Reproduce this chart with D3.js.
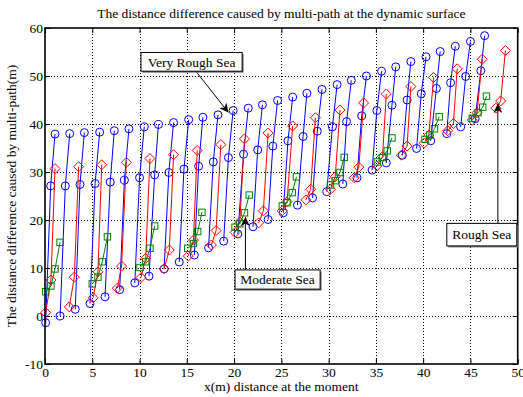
<!DOCTYPE html>
<html><head><meta charset="utf-8">
<script src="https://cdn.jsdelivr.net/npm/d3@7"></script>
<style>
body{margin:0;background:#fff}
svg{display:block}
text{font-family:"Liberation Serif","Times New Roman",serif;fill:#000}
</style>
</head><body>
<svg id="chart" width="523" height="397"></svg>
<script>
// ---------- data ----------
const titleText = "The distance difference caused by multi-path at the dynamic surface";
const xLabel = "x(m) distance at the moment";
const yLabel = "The distance difference caused by multi-path(m)";
const xTicks = [0,5,10,15,20,25,30,35,40,45,50];
const yTicks = [-10,0,10,20,30,40,50,60];
const seriesNames = ["Very Rough Sea","Rough Sea","Moderate Sea"];

// Very Rough Sea (blue circles): one ramp per row
const veryRoughX = [
 [0.07,0.6,1.06],[1.6,2.15,2.61],[3.2,3.7,4.16],[4.76,5.3,5.78],[6.35,6.9,7.33],
 [7.9,8.4,8.88],[9.5,10.0,10.5],[11.0,11.6,12.0],[12.6,13.1,13.6],[14.2,14.7,15.2],
 [15.8,16.25,16.7],[17.3,17.8,18.3],[18.9,19.4,19.9],[20.4,21.0,21.5],[22.0,22.5,23.0],
 [23.6,24.1,24.6],[25.2,25.7,26.2],[26.7,27.3,27.7],[28.3,28.8,29.3],[29.8,30.4,30.9],
 [31.5,31.9,32.4],[33.0,33.5,34.0],[34.6,35.1,35.6],[36.1,36.7,37.1],[37.8,38.3,38.7],
 [39.3,39.8,40.3],[40.8,41.4,41.8],[42.5,42.9,43.4],[43.97,44.5,45.0],[45.5,46.1,46.5]
];
const veryRoughY = [
 [-1.4,27.1,37.9],[0.0,27.1,38.0],[1.4,27.4,38.2],[2.6,27.6,38.3],[4.0,27.9,38.6],
 [5.5,28.3,39.0],[6.9,28.8,39.4],[8.3,29.4,39.9],[9.8,29.9,40.3],[11.25,30.6,40.9],
 [12.7,31.2,41.4],[14.2,32.1,41.9],[15.6,33.0,42.8],[17.1,33.7,43.3],[18.6,34.6,44.0],
 [20.1,35.4,44.9],[21.5,36.5,45.6],[23.1,37.4,46.4],[24.6,38.5,47.2],[25.9,39.4,48.2],
 [27.5,40.5,49.1],[28.8,41.7,50.0],[30.4,42.8,51.0],[31.9,43.9,51.9],[33.5,45.0,53.0],
 [34.9,46.3,54.0],[36.5,47.4,55.1],[38.0,48.6,56.2],[39.4,49.9,57.2],[41.1,51.1,58.4]
];

// Rough Sea (red diamonds)
const roughX = [
 [0.07,0.63,1.06],[2.57,3.1,3.56],[5.1,5.6,6.0],[7.65,8.1,8.6],[10.15,10.65,11.1],
 [12.6,13.15,13.6],[15.15,15.7,16.1],[17.6,18.1,18.6],[20.1,20.6,21.1],[22.6,23.1,23.6],
 [25.1,25.6,26.2],[27.6,28.1,28.6],[30.2,30.7,31.2],[32.7,33.2,33.7],[35.1,35.7,36.1],
 [37.7,38.3,38.7],[40.1,40.6,41.1],[42.6,43.2,43.6],[45.2,45.7,46.25],[47.7,48.2,48.7]
];
const roughY = [
 [0.7,7.5,30.7],[1.9,8.1,31.1],[3.8,9.2,31.5],[5.8,10.4,32.0],[8.0,12.0,32.8],
 [9.85,13.75,33.6],[12.5,15.8,34.5],[14.8,17.8,35.7],[17.4,19.6,36.9],[19.4,21.9,38.1],
 [21.9,23.8,39.6],[24.2,26.4,41.3],[26.4,29.0,42.9],[28.8,31.0,44.4],[31.25,33.2,46.25],
 [33.5,35.4,47.8],[36.0,37.7,49.7],[38.6,40.1,51.5],[40.8,42.35,53.5],[43.3,44.8,55.3]
];

// Moderate Sea (green squares)
const moderateX = [
 [0.07,0.63,1.06,1.59],[5.0,5.6,6.06,6.6],[10.05,10.65,11.1,11.6],[15.1,15.7,16.15,16.6],
 [20.1,20.6,21.1,21.6],[25.1,25.6,26.15,26.6],[30.2,30.7,31.2,31.65],[35.15,35.7,36.2,36.7],
 [40.2,40.7,41.2,41.7],[45.2,45.8,46.3,46.7]
];
const moderateY = [
 [5.06,6.25,9.8,15.35],[6.7,8.1,11.3,16.5],[10.1,11.3,14.1,18.75],[14.1,15.1,17.6,21.6],
 [18.5,19.2,21.5,25.2],[22.9,23.6,25.7,29.0],[27.3,28.2,29.9,33.05],[32.1,33.0,34.4,37.1],
 [36.8,37.7,39.0,41.5],[41.2,42.35,43.5,45.8]
];

// annotations: label, box corners (data), arrow start and tip (data)
const annotations = [
 {label:"Very Rough Sea", box:[10.15,54.9,20.85,51.0], from:[15.95,51.0], to:[19.4,42.4]},
 {label:"Moderate Sea",   box:[20.1,9.6,29.1,5.6],     from:[21.2,9.6],   to:[21.2,20.6]},
 {label:"Rough Sea",      box:[42.5,19.3,49.9,14.6],   from:[47.9,19.3],  to:[47.9,44.2]}
];

// ---------- drawing ----------
const W = 523, H = 397;
const L = 45, R = 517.7, T = 28, B = 364;
const FS = "13.5px";
const svg = d3.select("#chart");
const x = d3.scaleLinear().domain([0,50]).range([L,R]);
const y = d3.scaleLinear().domain([-10,60]).range([B,T]);

svg.append("rect").attr("width",W).attr("height",H).attr("fill","#fff");

// grid
const grid = svg.append("g").attr("shape-rendering","crispEdges");
grid.selectAll(".gx").data(xTicks.filter(d=>d>0&&d<50)).enter().append("line")
  .attr("x1",d=>Math.round(x(d))+0.5).attr("x2",d=>Math.round(x(d))+0.5).attr("y1",T).attr("y2",B)
  .attr("stroke","#000").attr("stroke-width",1).attr("stroke-dasharray","1,2");
grid.selectAll(".gy").data(yTicks.filter(d=>d>-10&&d<60)).enter().append("line")
  .attr("y1",d=>Math.round(y(d))+0.5).attr("y2",d=>Math.round(y(d))+0.5).attr("x1",L).attr("x2",R)
  .attr("stroke","#000").attr("stroke-width",1).attr("stroke-dasharray","1,2");

// axes
function styleAxis(g){
  g.select(".domain").remove();
  g.selectAll("line").attr("stroke","#000");
  g.selectAll("text").style("font-size",FS).style("font-family",'"Liberation Serif","Times New Roman",serif');
}
const fmt = d => String(d);
svg.append("g").attr("transform",`translate(0,${B})`)
  .call(d3.axisBottom(x).tickValues(xTicks).tickSize(-5).tickPadding(3).tickFormat(fmt)).call(styleAxis);
svg.append("g").attr("transform",`translate(0,${T})`)
  .call(d3.axisTop(x).tickValues(xTicks).tickSize(-5).tickFormat("")).call(styleAxis);
svg.append("g").attr("transform",`translate(${L},0)`)
  .call(d3.axisLeft(y).tickValues(yTicks).tickSize(-5).tickPadding(2).tickFormat(fmt)).call(styleAxis);
svg.append("g").attr("transform",`translate(${R},0)`)
  .call(d3.axisRight(y).tickValues(yTicks).tickSize(-5).tickFormat("")).call(styleAxis);

// series
const line = d3.line().x(d=>x(d[0])).y(d=>y(d[1]));
function zipSeg(xs, ys){ return xs.map((row,i)=>row.map((v,j)=>[v, ys[i][j]])); }
const series = [
  {name:seriesNames[0], segs:zipSeg(veryRoughX,veryRoughY), color:"#0000ff", marker:"circle"},
  {name:seriesNames[1], segs:zipSeg(roughX,roughY), color:"#ff0000", marker:"diamond"},
  {name:seriesNames[2], segs:zipSeg(moderateX,moderateY), color:"#008000", marker:"square"}
];
const plot = svg.append("g");
series.forEach(s=>{
  const g = plot.append("g");
  g.selectAll("path.l").data(s.segs).enter().append("path")
    .attr("d",line).attr("fill","none").attr("stroke",s.color).attr("stroke-width",1);
  const pts = s.segs.flat();
  if(s.marker==="circle"){
    g.selectAll("circle").data(pts).enter().append("circle")
      .attr("cx",d=>x(d[0])).attr("cy",d=>y(d[1])).attr("r",4)
      .attr("fill","none").attr("stroke",s.color).attr("stroke-width",1);
  } else if(s.marker==="diamond"){
    g.selectAll("path.m").data(pts).enter().append("path")
      .attr("d",d=>{const cx=x(d[0]),cy=y(d[1]),r=5;return `M${cx},${cy-r}L${cx+r},${cy}L${cx},${cy+r}L${cx-r},${cy}Z`;})
      .attr("fill","none").attr("stroke",s.color).attr("stroke-width",1);
  } else {
    g.selectAll("rect").data(pts).enter().append("rect")
      .attr("x",d=>x(d[0])-3.2).attr("y",d=>y(d[1])-3.2).attr("width",6.4).attr("height",6.4)
      .attr("fill","none").attr("stroke",s.color).attr("stroke-width",1);
  }
});

// frame
svg.append("rect").attr("x",L).attr("y",T).attr("width",R-L).attr("height",B-T)
  .attr("fill","none").attr("stroke","#000").attr("stroke-width",1.6);

// annotations
const defs = svg.append("defs");
defs.append("marker").attr("id","ah").attr("viewBox","0 0 10 10").attr("refX",10).attr("refY",5)
  .attr("markerWidth",9).attr("markerHeight",9).attr("markerUnits","userSpaceOnUse").attr("orient","auto")
  .append("path").attr("d","M0,0L10,5L0,10L3,5Z").attr("fill","#000");
annotations.forEach(a=>{
  const g = svg.append("g");
  g.append("line").attr("x1",x(a.from[0])).attr("y1",y(a.from[1])).attr("x2",x(a.to[0])).attr("y2",y(a.to[1]))
    .attr("stroke","#000").attr("stroke-width",1).attr("marker-end","url(#ah)");
  const x0=x(a.box[0]), y0=y(a.box[1]), x1=x(a.box[2]), y1=y(a.box[3]);
  g.append("rect").attr("x",x0+1.5).attr("y",y0+1.5).attr("width",x1-x0).attr("height",y1-y0).attr("fill","#777");
  g.append("rect").attr("x",x0).attr("y",y0).attr("width",x1-x0).attr("height",y1-y0)
    .attr("fill","#fff").attr("stroke","#000").attr("stroke-width",1);
  g.append("text").attr("x",(x0+x1)/2).attr("y",(y0+y1)/2+4.8).attr("text-anchor","middle")
    .style("font-size",FS).text(a.label);
});

// titles
svg.append("text").attr("x",(L+R)/2).attr("y",18).attr("text-anchor","middle").style("font-size",FS).text(titleText);
svg.append("text").attr("x",(L+R)/2).attr("y",391).attr("text-anchor","middle").style("font-size",FS).text(xLabel);
svg.append("text").attr("transform",`translate(16,${(T+B)/2}) rotate(-90)`).attr("text-anchor","middle")
  .style("font-size",FS).text(yLabel);
</script>
</body></html>
